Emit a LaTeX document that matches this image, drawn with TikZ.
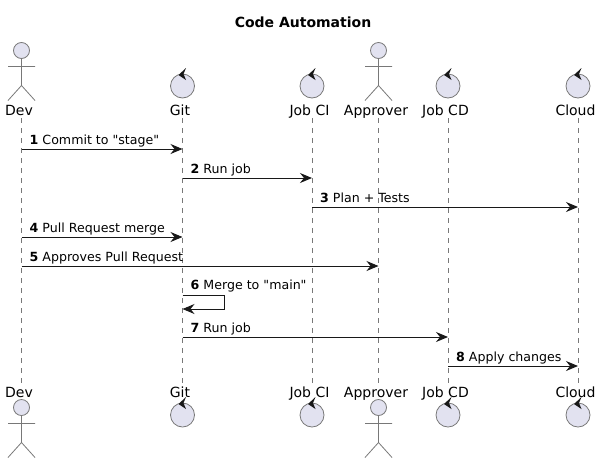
\documentclass[tikz,border=0pt]{standalone}
\usepackage{fontspec}
\newfontfamily\umlfont{DejaVu Sans}
\usetikzlibrary{arrows.meta}
\definecolor{partfill}{RGB}{226,226,240}
\definecolor{partline}{RGB}{24,24,24}
\definecolor{partedge}{RGB}{120,120,120}
\tikzset{
  partshape/.style={draw=partedge,fill=partfill,line width=0.8pt},
  lifeline/.style={draw=partedge,line width=0.8pt,dash pattern=on 5pt off 5pt},
  partlabel/.style={anchor=base,inner sep=0pt,font=\umlfont\fontsize{14}{14}\selectfont},
  msglabel/.style={anchor=base west,inner sep=0pt,font=\umlfont\fontsize{12.6}{13}\selectfont},
  msgline/.style={draw=partline,line width=1pt,-{Stealth[length=12pt,width=10pt,inset=4pt]}},
}

\begin{document}
\begin{tikzpicture}[x=1pt,y=-1pt]
\useasboundingbox (0,0) rectangle (601,464);

% Title
\node[anchor=base,inner sep=0pt,font=\umlfont\fontsize{14}{14}\selectfont\bfseries] (title) at (303,27) {Code Automation};

% Lifelines and names
\foreach \name/\x/\lab in {dev/21.5/Dev,git/182.5/Git,jobci/312/Job CI,approver/378.5/Approver,jobcd/448/Job CD,cloud/578/Cloud} {
  \coordinate (\name) at (\x,118);
  \coordinate (\name end) at (\x,383);
  \draw[lifeline] (\name) -- (\name end);
  \node[partlabel] (\name top) at (\x-2.5,115) {\lab};
  \node[partlabel] (\name bot) at (\x-2.5,397) {\lab};
}

% Actors
\foreach \x in {21.5,378.5} {
  \foreach \y in {50.5,407.5} {
    \draw[partshape] (\x,\y) circle (8);
    \draw[partshape,fill=none] (\x,\y+8) -- (\x,\y+35) (\x-13.5,\y+16) -- (\x+13.5,\y+16)
      (\x-13.5,\y+50) -- (\x,\y+35) -- (\x+13.5,\y+50);
  }
}

% Controls
\foreach \x in {182.5,312,448,578} {
  \foreach \y in {86,415} {
    \draw[partshape] (\x,\y) circle (12);
    \fill[partline] (\x+3.5,\y-18) -- (\x-4,\y-11) -- (\x+3.5,\y-6) -- (\x+1,\y-12) -- cycle;
  }
}

% Messages
\foreach \from/\to/\y/\num/\txt in {dev/git/149/1/Commit to "stage",git/jobci/178/2/Run job,jobci/cloud/207/3/Plan + Tests,dev/git/237/4/Pull Request merge,dev/approver/266/5/Approves Pull Request,git/jobcd/337/7/Run job,jobcd/cloud/366/8/Apply changes} {
  \draw[msgline] (\from |- 0,\y) -- (\to |- 0,\y);
  \node[msglabel] (msg\num) at ([xshift=8pt,yshift=4.6pt]\from |- 0,\y) {\textbf{\num} \txt};
}

% Self message
\draw[msgline] (git |- 0,295) -- ++(42,0) -- ++(0,14) -- (git |- 0,309);
\node[msglabel] (msg6) at ([xshift=8pt,yshift=5.5pt]git |- 0,295) {\textbf{6} Merge to "main"};
\end{tikzpicture}
\end{document}
